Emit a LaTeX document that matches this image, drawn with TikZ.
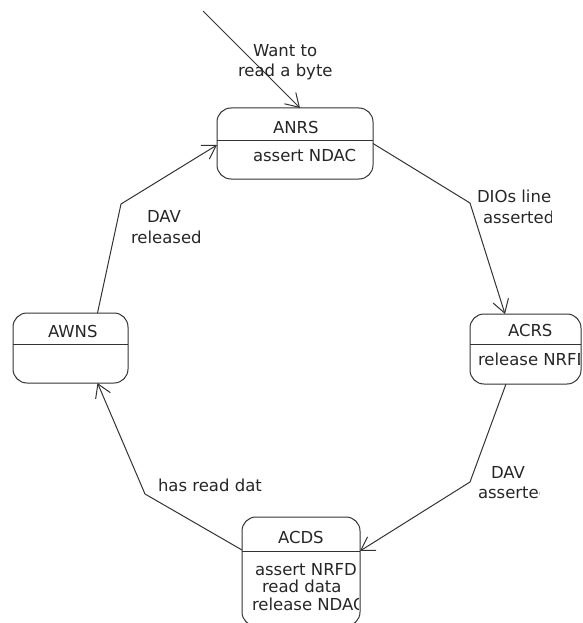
\documentclass[tikz,border=0pt]{standalone}
\usepackage{fontspec}
\setmainfont{DejaVu Sans}
\usetikzlibrary{arrows.meta}
\begin{document}
\begin{tikzpicture}[x=1pt,y=-1pt,
  ink/.style={draw=black!80, line width=1pt},
  state/.style={ink, rounded corners=14pt, inner sep=0pt, outer sep=0pt},
  txt/.style={inner sep=0pt, outer sep=0pt, anchor=base west, text=black!85,
    font=\fontsize{16.5}{20}\selectfont},
  flow/.style={ink, line join=round, -{Straight Barb[length=13pt,width=16pt]}},
]
\clip (0,0) rectangle (582,623);

% ---- states ----
\node[state, minimum width=156pt, minimum height=71pt]  (anrs) at (295,143.5) {};
\node[state, minimum width=111pt, minimum height=70pt]  (acrs) at (525.5,349) {};
\node[state, minimum width=118pt, minimum height=109pt] (acds) at (301,571.5) {};
\node[state, minimum width=115pt, minimum height=70pt]  (awns) at (70.5,348) {};

% compartment dividers
\draw[ink] (anrs.west |- 0,140) -- (anrs.east |- 0,140);
\draw[ink] (acrs.west |- 0,344) -- (acrs.east |- 0,344);
\draw[ink] (acds.west |- 0,551) -- (acds.east |- 0,551);
\draw[ink] (awns.west |- 0,344) -- (awns.east |- 0,344);

% state names and actions
\node[txt] (anrs-name) at (273,133) {ANRS};
\node[txt] (anrs-act)  at (253,161.5) {assert NDAC};

\node[txt] (acrs-name) at (508,336.5) {ACRS};
\begin{scope}
  \clip (acrs.south west) rectangle ([xshift=-2pt]acrs.north east);
  \node[txt] (acrs-act) at (478,365) {release NRFD};
\end{scope}

\node[txt] (acds-name) at (278,543) {ACDS};
\begin{scope}
  \clip (acds.south west) rectangle ([xshift=-1.5pt]acds.north east);
  \node[txt] (acds-act1) at (255,575) {assert NRFD};
  \node[txt] (acds-act2) at (262,592.5) {read data};
  \node[txt] (acds-act3) at (252,610) {release NDAC};
\end{scope}

\node[txt] (awns-name) at (48,337) {AWNS};

% ---- transitions ----
\coordinate (init) at (203,11);
\draw[flow] (init) -- ([xshift=83pt]anrs.north west);

\coordinate (b1) at (470,203);
\draw[flow] (anrs.east) -- (b1) -- ([xshift=35pt]acrs.north west);

\coordinate (b2) at (470,482);
\draw[flow] ([xshift=36pt]acrs.south west) -- (b2) -- ([yshift=-34pt]acds.north east);

\coordinate (b3) at (145,494);
\draw[flow] ([yshift=-33pt]acds.north west) -- (b3) -- ([xshift=27pt]awns.south);

\coordinate (b4) at (121,204);
\draw[flow] ([xshift=27pt]awns.north) -- (b4) -- ([yshift=-37pt]anrs.north west);

% ---- transition labels ----
\node[txt] (l-init1) at (253,57) {Want to};
\node[txt] (l-init2) at (238,77) {read a byte};

\begin{scope}
  \clip (440,180) rectangle (551.5,240);
  \node[txt] (l-dio1) at (477,202) {DIOs line};
  \node[txt] (l-dio2) at (483,223) {asserted};
\end{scope}

\begin{scope}
  \clip (440,455) rectangle (539.5,510);
  \node[txt] (l-dav1) at (491,478) {DAV};
  \node[txt] (l-dav2) at (478,498) {asserted};
\end{scope}

\node[txt] (l-rel1) at (147,222) {DAV};
\node[txt] (l-rel2) at (131,243) {released};

\node[txt] (l-read) at (158,491) {has read dat};
\end{tikzpicture}
\end{document}
